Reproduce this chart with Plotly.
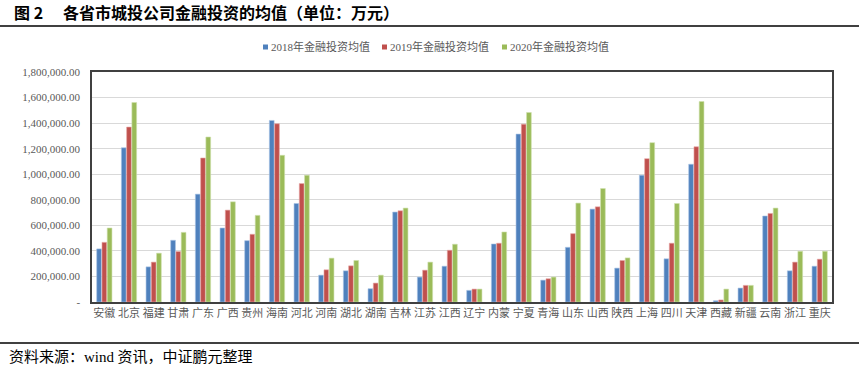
import plotly.graph_objects as go

provinces = ["安徽", "北京", "福建", "甘肃", "广东", "广西", "贵州", "海南", "河北", "河南",
             "湖北", "湖南", "吉林", "江苏", "江西", "辽宁", "内蒙", "宁夏", "青海", "山东",
             "山西", "陕西", "上海", "四川", "天津", "西藏", "新疆", "云南", "浙江", "重庆"]

v2018 = [415600, 1207000, 275000, 483000, 844000, 579000, 480000, 1421000, 771000, 210000,
         244000, 104000, 704000, 195000, 280000, 91000, 454000, 1314000, 171000, 428000,
         727000, 265000, 992000, 338000, 1078000, 10000, 109000, 673000, 244000, 280000]
v2019 = [467000, 1369000, 312000, 395000, 1127000, 719000, 530000, 1395000, 927000, 252000,
         283000, 148000, 714000, 249000, 405000, 101000, 460000, 1392000, 182000, 535000,
         745000, 325000, 1122000, 460000, 1215000, 16000, 130000, 693000, 312000, 335000]
v2020 = [579000, 1561000, 382000, 545000, 1291000, 784000, 678000, 1148000, 992000, 343000,
         325000, 210000, 735000, 312000, 452000, 101000, 548000, 1483000, 195000, 774000,
         888000, 345000, 1247000, 771000, 1569000, 101000, 130000, 735000, 397000, 397000]

series_names = ["2018年金融投资均值", "2019年金融投资均值", "2020年金融投资均值"]
colors = ["#4F81BD", "#C0504D", "#9BBB59"]
edge_colors = ["#A9C4E6", "#E8A9A7", "#CFE0AC"]

y_ticks = [0, 200000, 400000, 600000, 800000, 1000000, 1200000, 1400000, 1600000, 1800000]
y_labels = ["-"] + [f"{v:,.2f}" for v in y_ticks[1:]]

# plot area in pixels: x 92..832, y 72..302
L, R, T, B = 92, 832, 72, 302
W, H = R - L, B - T


def px(x):
    return (x - L) / W


def py(y):
    return (B - y) / H


fig = go.Figure()
for name, vals, c, ec in zip(series_names, [v2018, v2019, v2020], colors, edge_colors):
    fig.add_trace(go.Bar(x=provinces, y=vals, name=name, showlegend=False,
                         marker=dict(color=c, line=dict(color=ec, width=0.6))))

# manual legend (squares + labels)
legend_x = [263, 382, 502]
shapes = []
annotations = []
for lx, name, c in zip(legend_x, series_names, colors):
    shapes.append(dict(type="rect", xref="paper", yref="paper",
                       x0=px(lx), x1=px(lx + 5), y0=py(49.5), y1=py(44.5),
                       fillcolor=c, line=dict(width=0)))
    annotations.append(dict(text=name, xref="paper", yref="paper",
                            x=px(lx + 6), y=py(47), xanchor="left", yanchor="middle",
                            showarrow=False,
                            font=dict(family="Liberation Serif, Noto Sans CJK SC", size=11,
                                      color="#595959")))

annotations += [
    dict(text="<b>图 2</b>", xref="paper", yref="paper", x=px(12), y=py(12),
         xanchor="left", yanchor="middle", showarrow=False,
         font=dict(family="Noto Sans CJK SC", size=16, color="#000000")),
    dict(text="<b>各省市城投公司金融投资的均值（单位：万元）</b>", xref="paper", yref="paper",
         x=px(61), y=py(12), xanchor="left", yanchor="middle", showarrow=False,
         font=dict(family="Noto Sans CJK SC", size=16, color="#000000")),
    dict(text="资料来源：<span style='font-family:Liberation Serif'>wind</span> 资讯，中证鹏元整理",
         xref="paper", yref="paper", x=px(7), y=py(355), xanchor="left", yanchor="middle",
         showarrow=False, font=dict(family="Noto Sans CJK SC", size=15, color="#000000")),
]

shapes += [
    dict(type="line", xref="paper", yref="paper", x0=px(0), x1=px(859), y0=py(26), y1=py(26),
         line=dict(color="#000000", width=1.5)),
    dict(type="line", xref="paper", yref="paper", x0=px(0), x1=px(859), y0=py(343), y1=py(343),
         line=dict(color="#000000", width=1.5)),
]

fig.update_layout(
    width=862, height=367,
    margin=dict(l=L, r=862 - R, t=T, b=367 - B, autoexpand=False),
    paper_bgcolor="white", plot_bgcolor="white",
    barmode="group", bargap=0.36, bargroupgap=0.1,
    font=dict(family="Noto Sans CJK SC", size=11, color="#595959"),
    showlegend=False,
    xaxis=dict(showline=True, linecolor="#404040", linewidth=1.5, mirror=True,
               ticks="", tickfont=dict(family="Noto Sans CJK SC", size=11, color="#595959"),
               showgrid=False, automargin=False),
    yaxis=dict(range=[0, 1800000], tickvals=y_ticks, ticktext=y_labels,
               showline=True, linecolor="#404040", linewidth=1.5, mirror=True,
               showgrid=True, gridcolor="#D9D9D9", gridwidth=1, ticks="",
               ticklabelstandoff=8, automargin=False,
               tickfont=dict(family="Liberation Serif", size=11, color="#595959"),
               zeroline=False),
    annotations=annotations,
    shapes=shapes,
)

fig.write_html("out.html", config={"displayModeBar": False},
               post_script="document.body.style.margin='0';document.body.style.overflow='hidden';")
